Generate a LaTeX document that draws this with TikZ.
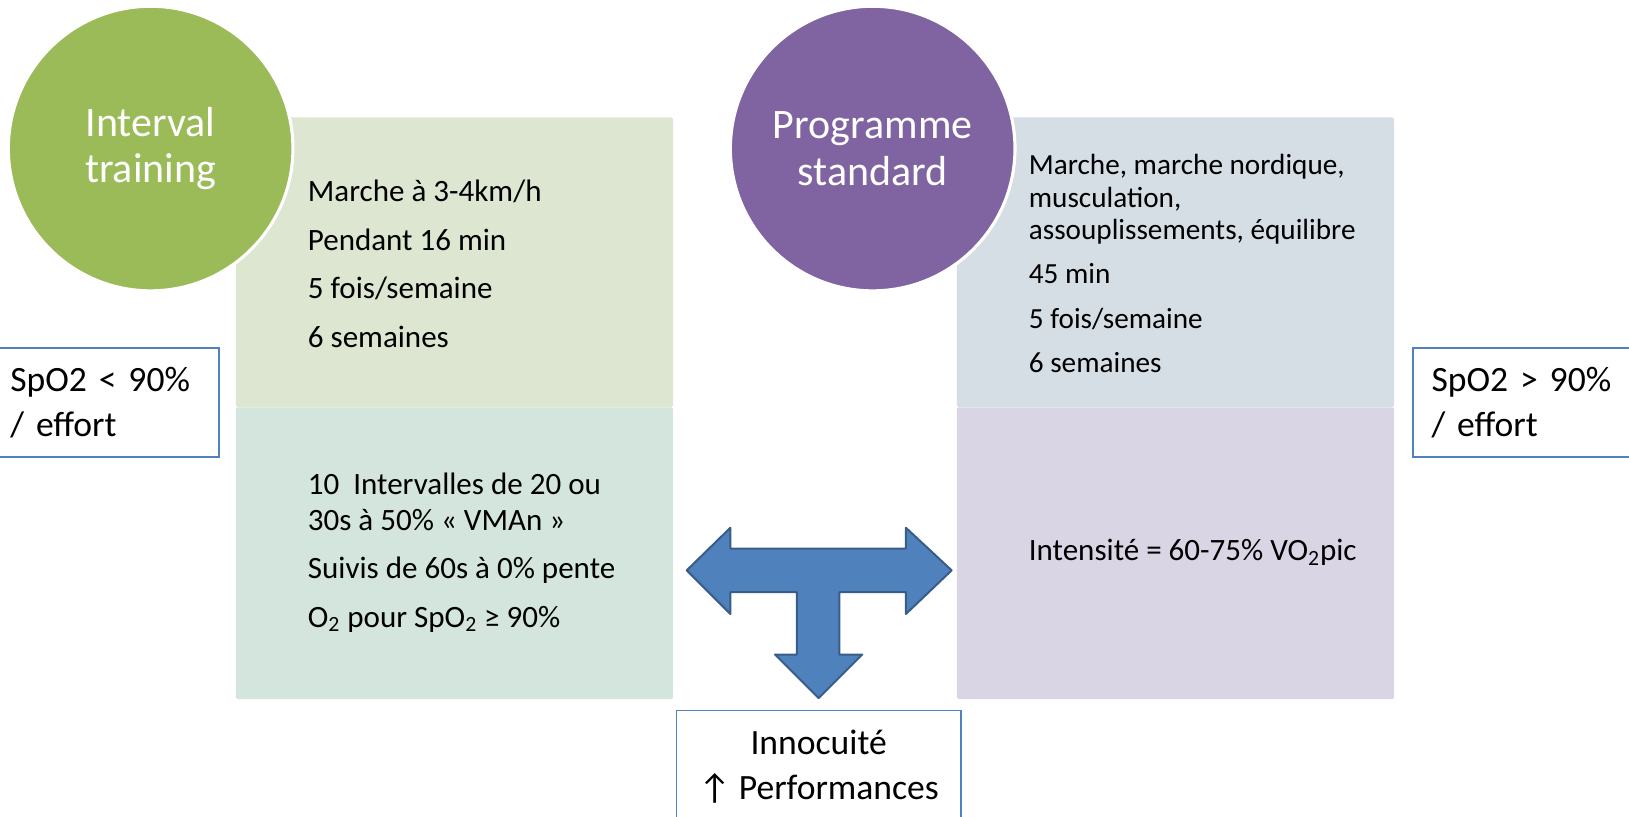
\documentclass[tikz,border=0pt]{standalone}
\usepackage{fontspec}
\setmainfont{Carlito}
\usepackage{tikz}

\definecolor{itgreen}{HTML}{9BBB59}
\definecolor{stdviolet}{HTML}{8064A2}
\definecolor{paleA}{HTML}{DDE6D0}
\definecolor{paleB}{HTML}{D3E5DD}
\definecolor{paleC}{HTML}{D5DDE5}
\definecolor{paleD}{HTML}{D9D5E4}
\definecolor{arrowblue}{HTML}{4F81BD}
\definecolor{arrowedge}{HTML}{385D8A}

\begin{document}
\begin{tikzpicture}[
  x=0.02cm, y=-0.02cm,
  prog/.style={circle, draw=white, line width=1.7pt, minimum size=5.48cm,
               inner sep=0pt, text=white, align=center,
               font=\fontsize{23}{25.5}\selectfont},
  panel/.style={rectangle, rounded corners=1pt, minimum width=8.42cm,
                inner sep=0pt},
  lines/.style={anchor=west, align=left, inner sep=0pt},
  cond/.style={draw=arrowblue, line width=0.9pt, fill=white,
               minimum height=2.1cm, align=left,
               font=\fontsize{19.5}{24.4}\selectfont},
]
  \useasboundingbox (0,0) rectangle (1568,786);

  % panels
  \node[panel, fill=paleA, minimum height=5.58cm] (lu) at (437.5,252.5) {};
  \node[panel, fill=paleB, minimum height=5.62cm] (ll) at (437.5,532.5) {};
  \node[panel, fill=paleC, minimum height=5.58cm] (ru) at (1131.5,252.5) {};
  \node[panel, fill=paleD, minimum height=5.62cm] (rl) at (1131.5,532.5) {};

  % programmes
  \node[prog, fill=itgreen] (it) at (145,143) {Interval\\training};
  \node[prog, fill=stdviolet] (std) at (840,143) {Programme\\standard};

  \node[lines, font=\fontsize{17}{26.5}\selectfont] (itA) at (296,254)
    {Marche à 3-4km/h\\Pendant 16 min\\5 fois/semaine\\6 semaines};
  \node[lines, font=\fontsize{17}{19.3}\selectfont] (itB) at (296,532)
    {10\ \ Intervalles de 20 ou\\30s à 50\% « VMAn »\\[7.3pt]
     Suivis de 60s à 0\% pente\\[7.3pt]
     O\textsubscript{2} pour SpO\textsubscript{2} ≥ 90\%};
  \node[lines, font=\fontsize{16}{17.6}\selectfont] (stdA) at (990,254)
    {Marche, marche nordique,\\musculation,\\assouplissements, équilibre\\[6.8pt]
     45 min\\[6.8pt]5 fois/semaine\\[6.8pt]6 semaines};
  \node[lines, font=\fontsize{17}{19.3}\selectfont] (stdB) at (990,532)
    {Intensité = 60-75\% VO\textsubscript{2}pic};

  % conditions
  \node[cond, minimum width=4.32cm, text width=3.72cm, inner xsep=0.3cm]
    (low) at (103,387.5) {SpO2 < 90\%\\/ effort};
  \node[cond, minimum width=4.3cm, text width=3.58cm, inner xsep=0.36cm]
    (high) at (1467.5,387.5) {SpO2 > 90\%\\/ effort};
  \node[cond, minimum width=5.48cm, minimum height=2.16cm, align=center]
    (out) at (788,738) {Innocuité\\↑ Performances};

  % T arrow
  \draw[fill=arrowblue, draw=arrowedge, line width=1.1pt, line join=round]
    (661,549) -- (703,508) -- (703,528) -- (872,528) -- (872,508)
    -- (916,549) -- (872,591) -- (872,570) -- (808,570) -- (808,630)
    -- (830,630) -- (788,672) -- (746,630) -- (767,630) -- (767,570)
    -- (703,570) -- (703,591) -- cycle;
\end{tikzpicture}
\end{document}
